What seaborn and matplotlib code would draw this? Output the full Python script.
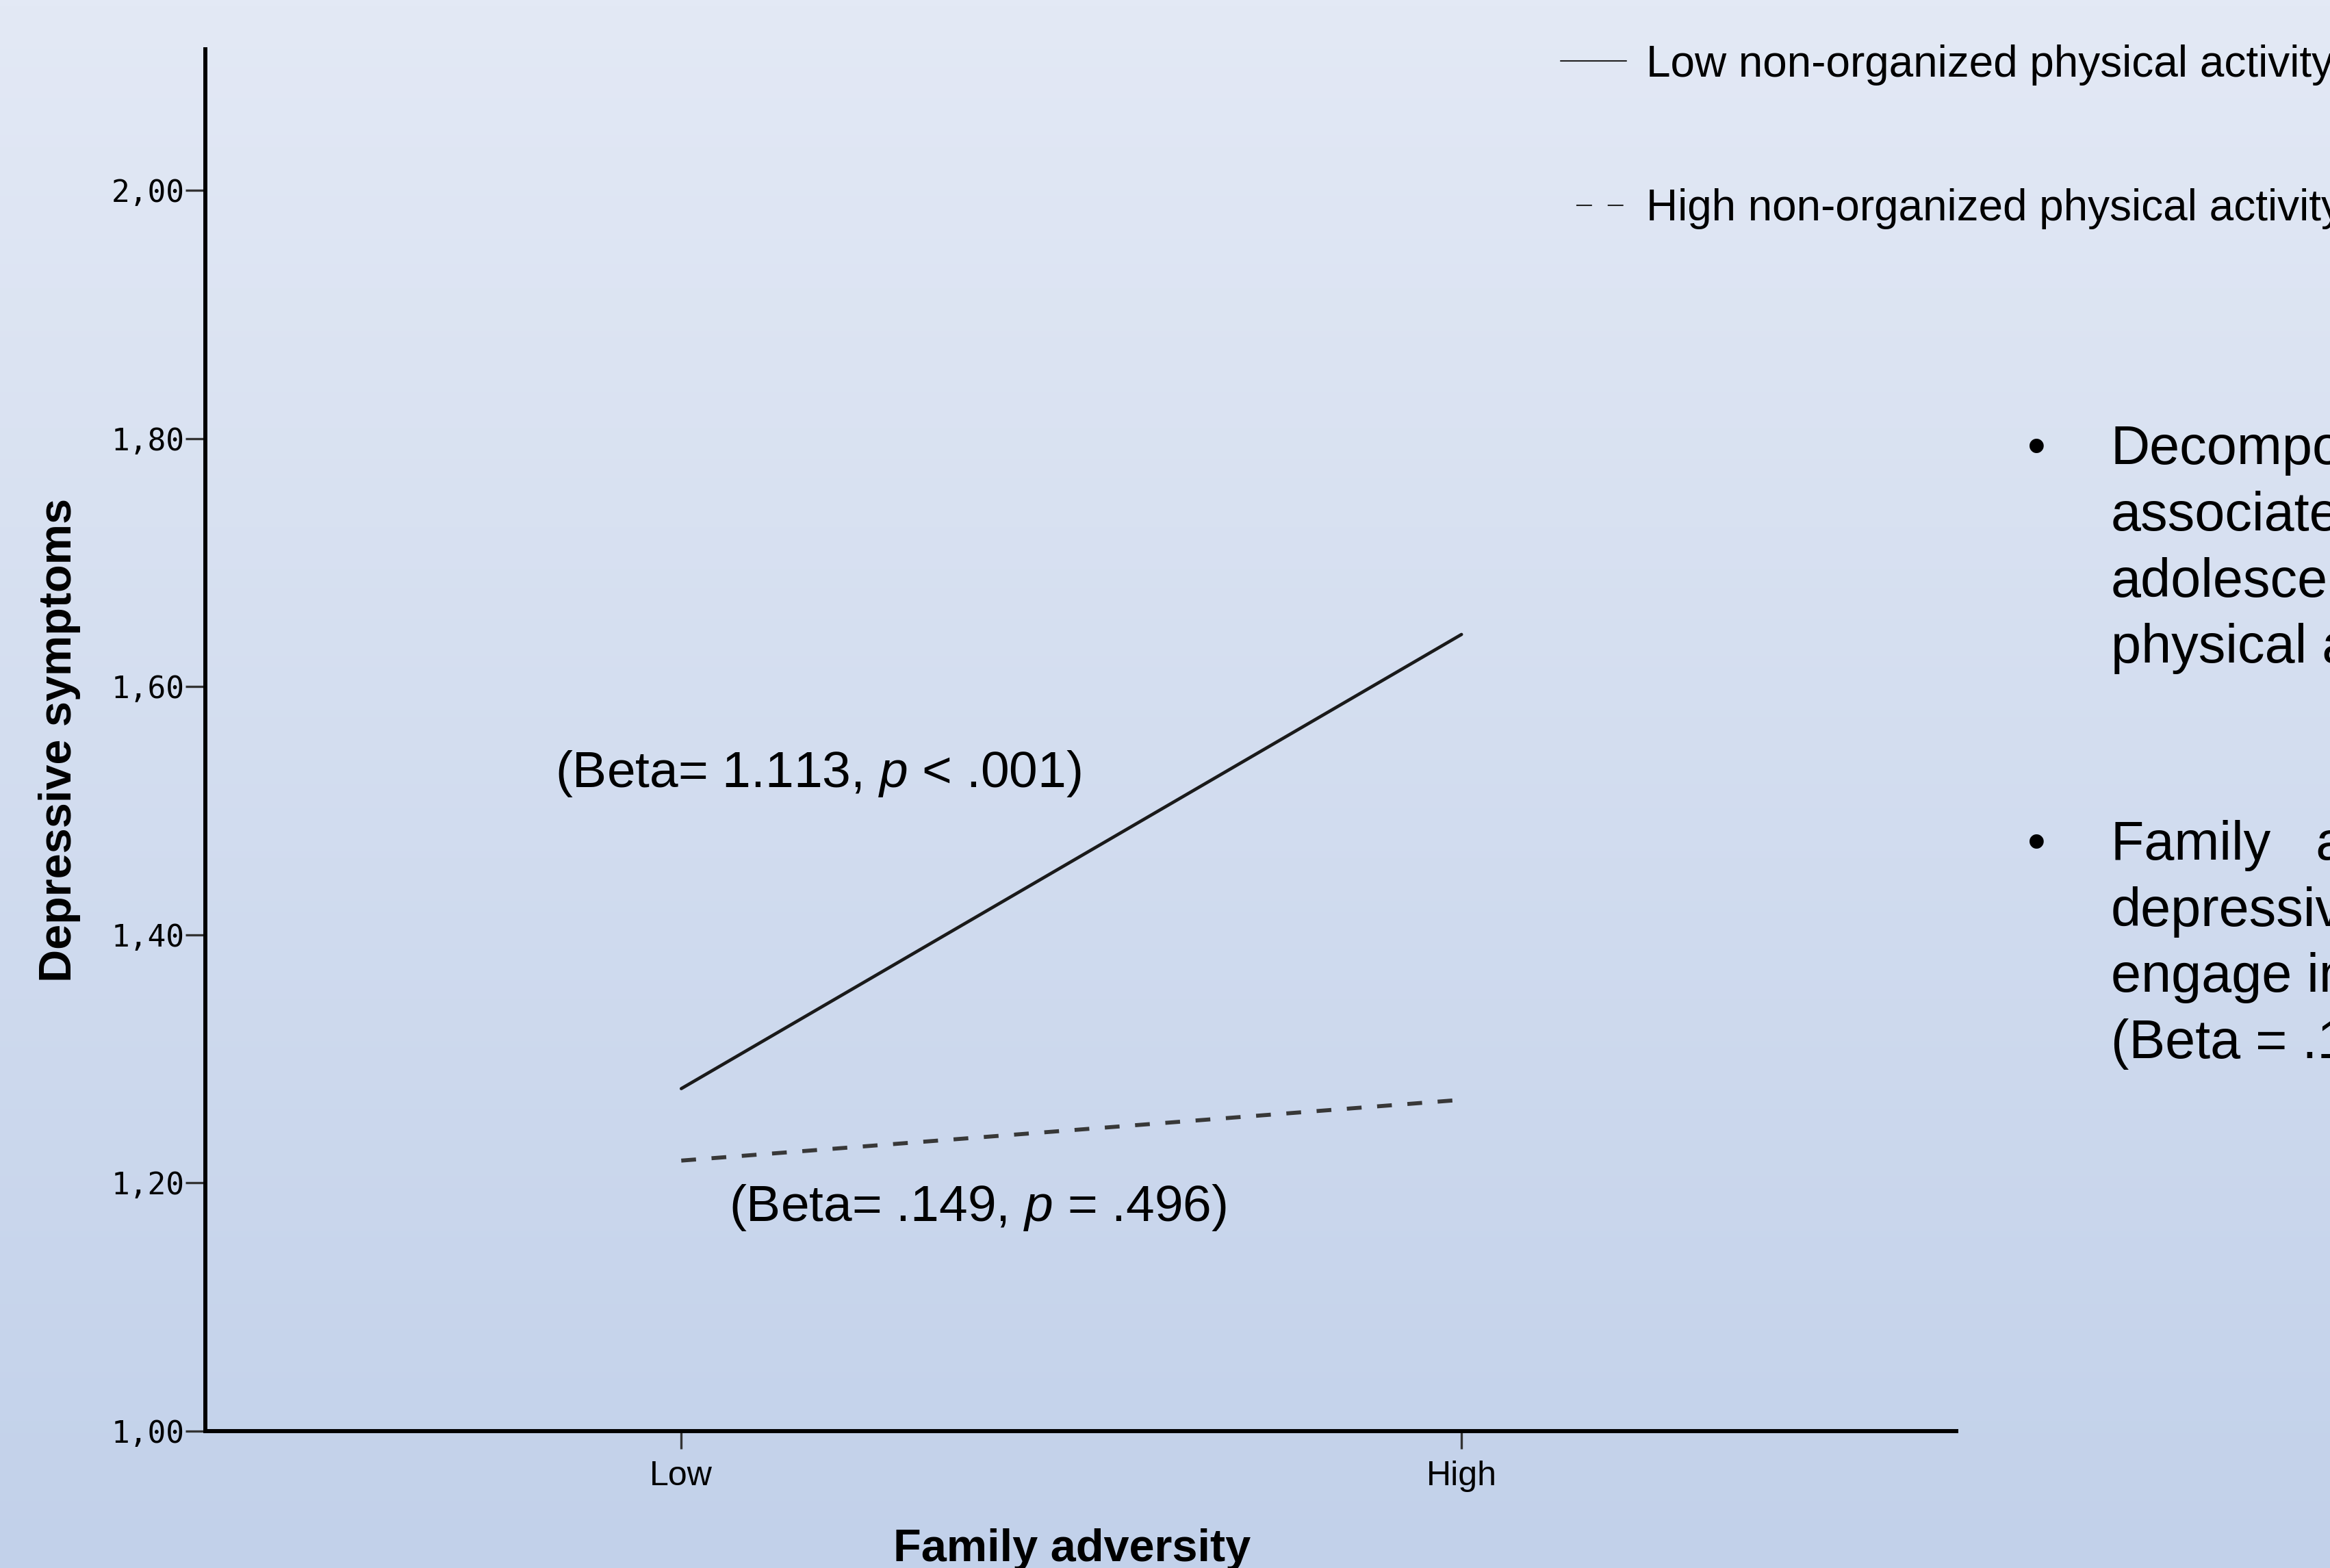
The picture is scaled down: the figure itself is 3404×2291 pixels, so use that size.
import numpy as np
import pandas as pd
import matplotlib.pyplot as plt
import matplotlib.colors as mcolors
from matplotlib.lines import Line2D
import seaborn as sns

# значения
adversity = ['Low', 'High']
adversity_pos = [0, 1]
low_activity = [1.276, 1.642]
high_activity = [1.218, 1.267]
y_ticks = [1.0, 1.2, 1.4, 1.6, 1.8, 2.0]
group_labels = ['Low non-organized physical activity',
                'High non-organized physical activity']
beta_labels = ['(Beta= 1.113, $p$ < .001)', '(Beta= .149, $p$ = .496)']
bullet_1 = ['Decomposition', 'associated', 'adolescents', 'physical activity']
bullet_2 = ['Family   adversity', 'depressive', 'engage in', '(Beta = .1']

sns.set_style('ticks')
plt.rcParams['font.family'] = ['Liberation Sans', 'DejaVu Sans']
plt.rcParams['mathtext.fontset'] = 'custom'
plt.rcParams['mathtext.rm'] = 'Liberation Sans'
plt.rcParams['mathtext.it'] = 'Liberation Sans:italic'
plt.rcParams['text.color'] = 'black'
plt.rcParams['axes.labelcolor'] = 'black'
plt.rcParams['xtick.color'] = '#333333'
plt.rcParams['ytick.color'] = '#333333'
plt.rcParams['xtick.labelcolor'] = 'black'
plt.rcParams['ytick.labelcolor'] = 'black'

df = pd.DataFrame({
    'adversity': adversity_pos * 2,
    'symptoms': low_activity + high_activity,
    'group': [group_labels[0]] * 2 + [group_labels[1]] * 2,
})

fig = plt.figure(figsize=(34.05, 22.91), dpi=100)

# фон-градиент как у слайда
bg = fig.add_axes([0, 0, 1, 1], zorder=-10)
grad = np.linspace(0, 1, 256).reshape(-1, 1)
cmap = mcolors.LinearSegmentedColormap.from_list('bg', ['#e3e9f5', '#c2d1ea'])
bg.imshow(grad, aspect='auto', cmap=cmap, extent=[0, 1, 0, 1], origin='upper')
bg.axis('off')

ax = fig.add_axes([0.0881, 0.0873, 0.7512, 0.8813])
ax.patch.set_alpha(0)

sns.lineplot(data=df[df['group'] == group_labels[0]], x='adversity', y='symptoms',
             color='#1a1a1a', lw=3.4, ax=ax, legend=False)
sns.lineplot(data=df[df['group'] == group_labels[1]], x='adversity', y='symptoms',
             color='#383838', lw=4.2, ax=ax, legend=False, linestyle=(0, (3.7, 3.9)))

ax.set_xlim(-0.61, 1.634)
ax.set_ylim(1.0, 2.1136)
ax.set_xticks(adversity_pos, adversity)
ax.set_yticks(y_ticks, [f'{v:.2f}'.replace('.', ',') for v in y_ticks])
for lab in ax.get_yticklabels():
    lab.set_fontfamily('DejaVu Sans Mono')
ax.tick_params(axis='y', length=21, width=2.4, pad=1, labelsize=32)
ax.tick_params(axis='x', length=19, width=2.4, pad=12, labelsize=36)

sns.despine(ax=ax)
for s in ['left', 'bottom']:
    ax.spines[s].set_linewidth(4.3)
    ax.spines[s].set_color('black')

ax.set_xlabel('Family adversity', fontsize=48, fontweight='bold', labelpad=38)
ax.xaxis.label.set_x(0.495)
ax.set_ylabel('Depressive symptoms', fontsize=48, fontweight='bold', labelpad=32)

ax.text(-0.162, 1.530, beta_labels[0], ha='left', va='center', fontsize=54)
ax.text(0.061, 1.180, beta_labels[1], ha='left', va='center', fontsize=54)

handles = [Line2D([], [], color='#222222', lw=1.5),
           Line2D([], [], color='#222222', lw=1.5, linestyle=(11, (11, 11)))]
fig.legend(handles, group_labels, loc='upper left', bbox_to_anchor=(0.6696, 0.9717),
           frameon=False, fontsize=46, handlelength=1.5, handletextpad=0.45,
           labelspacing=2.35, borderpad=0, borderaxespad=0)

# текст справа (обрезан краем слайда)
H = 2291
step = 96.6
for block, y0 in [(bullet_1, 658), (bullet_2, 1235.5)]:
    fig.text(2962 / 3405, 1 - y0 / H, '•', fontsize=55, ha='left', va='center')
    for i, line in enumerate(block):
        fig.text(3084 / 3405, 1 - (y0 + i * step) / H, line, fontsize=57,
                 ha='left', va='center')

fig.savefig('out.png', dpi=100)
